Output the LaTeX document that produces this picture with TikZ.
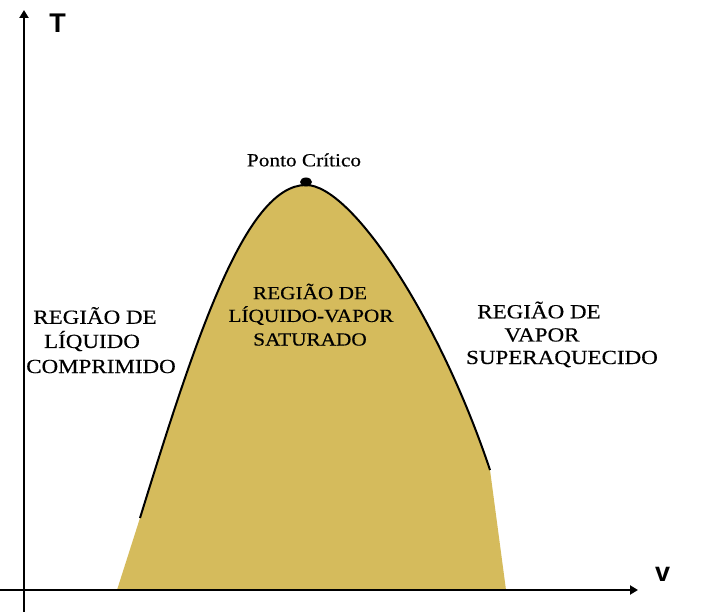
\documentclass[tikz,border=0pt]{standalone}
\usepackage{fontspec}
\usetikzlibrary{arrows.meta,shapes.geometric}
\newfontfamily\lblfont[FakeStretch=1.15,FakeBold=0.4]{Liberation Serif}
\newfontfamily\axfont{Liberation Sans}
\definecolor{domefill}{RGB}{213,187,92}
\tikzset{
  axis/.style={line width=2pt, -{Triangle[length=8pt,width=9pt]}},
  region/.style={inner sep=0pt, anchor=center, font=\lblfont\fontsize{20}{24}\selectfont},
  regionsm/.style={inner sep=0pt, anchor=center, font=\lblfont\fontsize{18.5}{22}\selectfont},
  axlabel/.style={inner sep=0pt, anchor=center, font=\axfont\bfseries\fontsize{27}{30}\selectfont},
  curveline/.style={line width=2pt, black},
  critdot/.style={fill=black, ellipse, minimum width=12pt, minimum height=9pt, inner sep=0pt},
}
\begin{document}
\begin{tikzpicture}[x=1pt, y=-1pt]
\useasboundingbox (0,0) rectangle (712,612);
\fill[white] (0,0) rectangle (712,612);
% dome fill
\fill[domefill] (117,590) -- (140,518) .. controls (195,340) and (245,185) .. (306,185)
  .. controls (352,185) and (440,320) .. (490,470) -- (506,590) -- cycle;
% saturation curve
\draw[curveline] (140,518) .. controls (195,340) and (245,185) .. (306,185)
  .. controls (352,185) and (440,320) .. (490,470);
% critical point
\node[critdot] (cp) at (306,182) {};
% axes
\coordinate (ybot) at (24,612);
\coordinate (ytop) at (24,10);
\coordinate (xleft) at (0,590);
\coordinate (xright) at (638,590);
\draw[axis] (ybot) -- (ytop);
\draw[axis] (xleft) -- (xright);
\node[axlabel] (T) at (57.5,23.5) {T};
\node[axlabel] (v) at (662.5,574) {v};
% labels
\node[regionsm] (pc) at (304,160) {Ponto Crítico};
\node[region] (l1) at (95,315.5) {REGIÃO DE};
\node[region] (l2) at (92,341) {LÍQUIDO};
\node[region] (l3) at (101,366.5) {COMPRIMIDO};
\node[regionsm] (m1) at (310,291.5) {REGIÃO DE};
\node[regionsm] (m2) at (311,315.5) {LÍQUIDO-VAPOR};
\node[regionsm] (m3) at (310,339.5) {SATURADO};
\node[region] (r1) at (539,310) {REGIÃO DE};
\node[region] (r2) at (542,335) {VAPOR};
\node[region] (r3) at (562,359) {SUPERAQUECIDO};
\end{tikzpicture}
\end{document}
